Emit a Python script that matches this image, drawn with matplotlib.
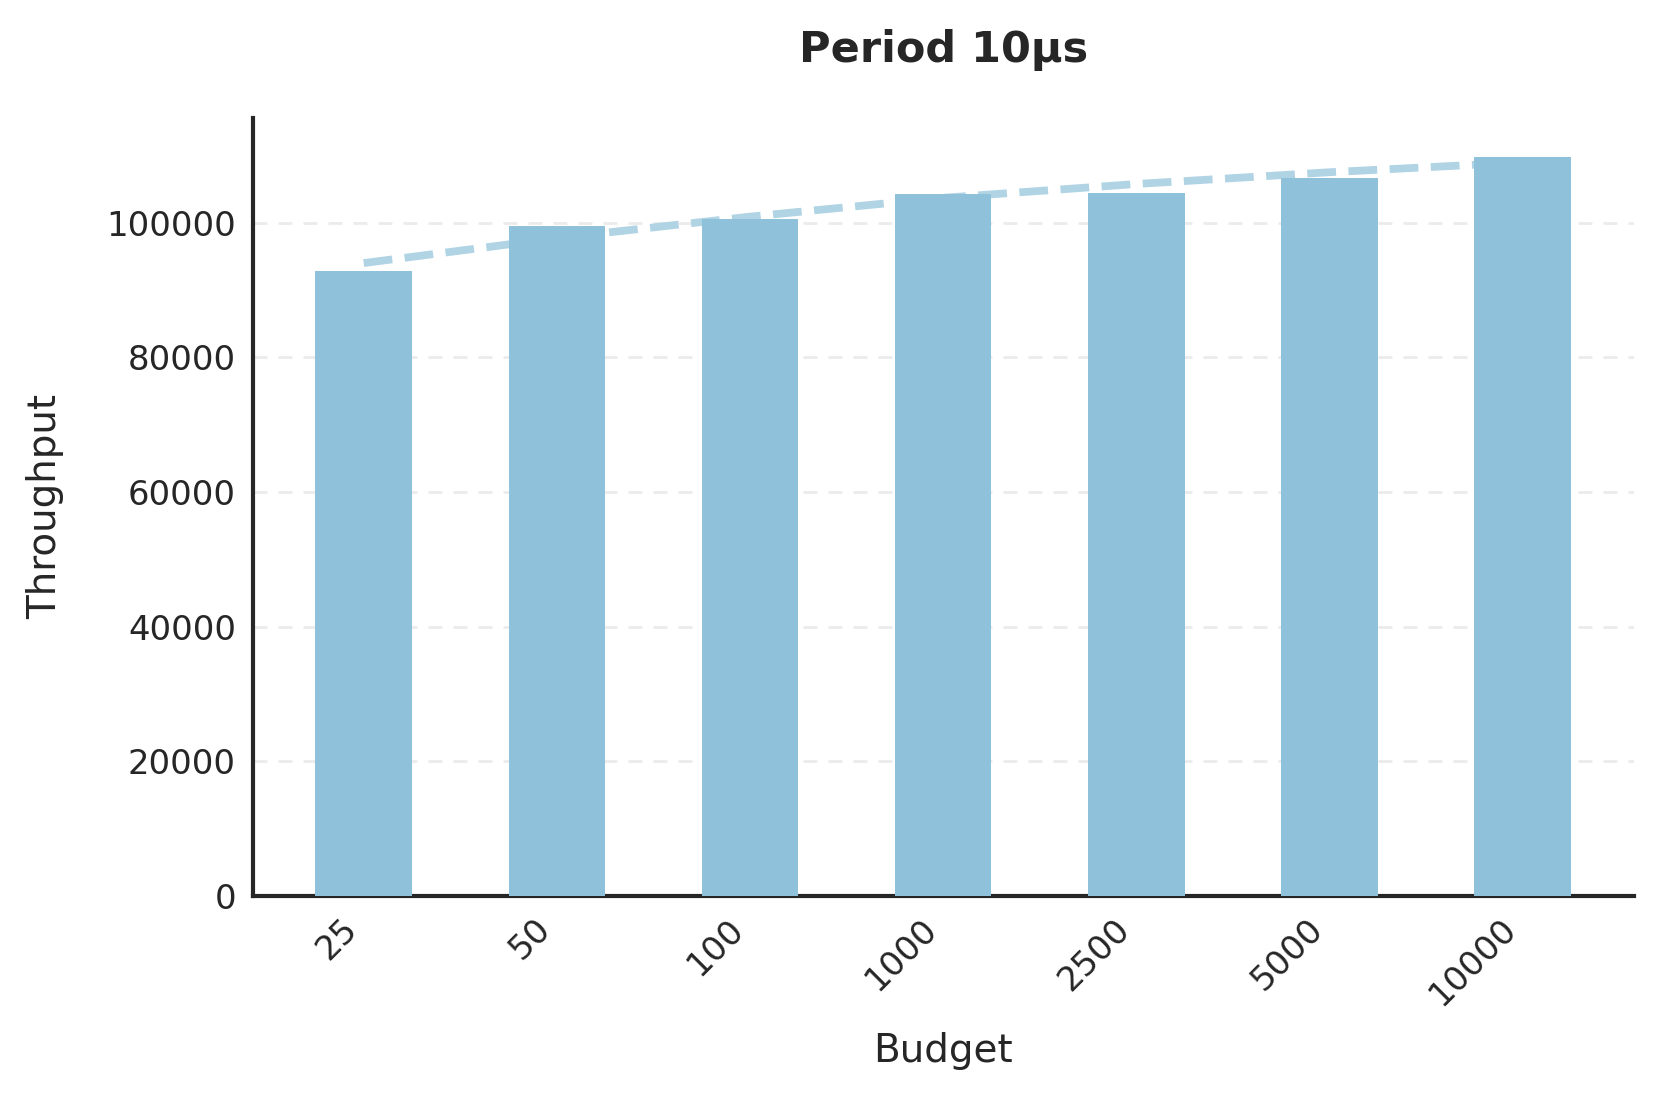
import matplotlib
matplotlib.use("Agg")
import matplotlib.pyplot as plt
import numpy as np

budgets = ["25", "50", "100", "1000", "2500", "5000", "10000"]
throughput = [92800, 99500, 100600, 104300, 104400, 106600, 109800]
trend = [94000, 97700, 100900, 103700, 105750, 107500, 108970]

bar_color = "#8fc1da"
line_color = "#b1d4e5"
text_color = "#262626"

plt.rcParams['font.family'] = ['DejaVu Sans']
fig = plt.figure(figsize=(8.31, 5.475), dpi=200)
ax = fig.add_axes([0.152, 0.182, 0.831, 0.7105])

x = np.arange(len(budgets))
ax.plot(x, trend, linestyle='--', color=line_color, linewidth=2.8, zorder=2)
ax.bar(x, throughput, width=0.5, color=bar_color, zorder=3)

ax.set_xticks(x)
ax.set_xticklabels(budgets, rotation=45, ha='right', fontsize=12.2, color=text_color)
ax.tick_params(axis='both', length=0, colors=text_color, labelsize=12.2, pad=6)
ax.set_yticks([0, 20000, 40000, 60000, 80000, 100000])
ax.set_ylim(0, 115600)

ax.yaxis.grid(True, linestyle=(0, (5, 4)), color="#ebebeb", linewidth=1.0, zorder=0)
ax.set_axisbelow(True)

for s in ['top', 'right']:
    ax.spines[s].set_visible(False)
for s in ['left', 'bottom']:
    ax.spines[s].set_linewidth(1.5)
    ax.spines[s].set_color(text_color)

ax.set_xlabel("Budget", fontsize=14, color=text_color, labelpad=7)
ax.set_ylabel("Throughput", fontsize=14, color=text_color, labelpad=15)
ax.set_title("Period 10μs", fontsize=15.5, fontweight='bold', color=text_color, pad=20)

fig.savefig("out.png", dpi=200)
